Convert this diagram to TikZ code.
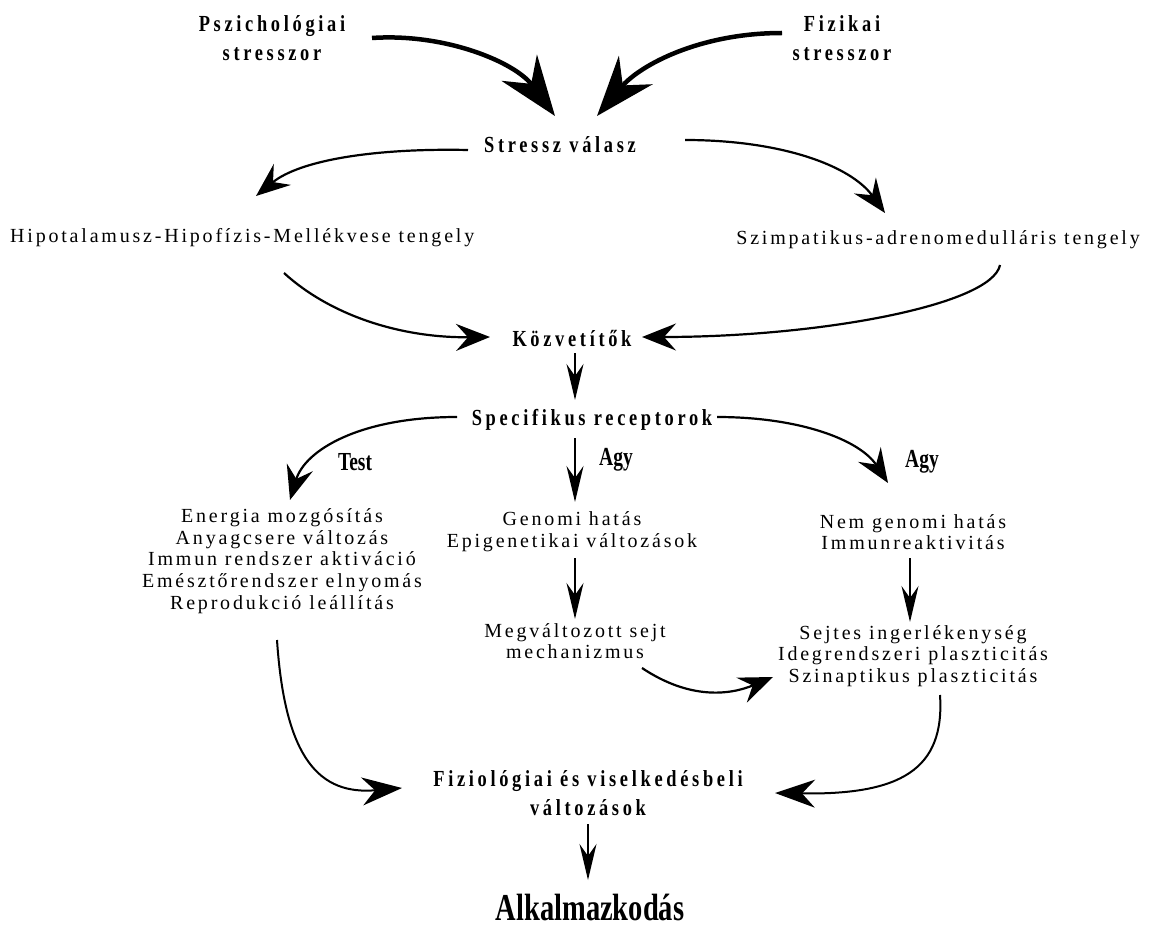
\documentclass[tikz,border=0pt]{standalone}
\usepackage{fontspec}
\setmainfont{Liberation Serif}
\newfontfamily\spc{Liberation Serif}[LetterSpace=14]
\newfontfamily\bsp{Liberation Serif}[LetterSpace=16,FakeStretch=0.8]
\newfontfamily\nrw{Liberation Serif}[FakeStretch=0.75]
\usetikzlibrary{arrows.meta}
\begin{document}
\begin{tikzpicture}[x=1pt,y=-1pt,
 txt/.style={font=\spc\fontsize{20}{21.7}\selectfont,align=center,inner sep=0pt},
 btxt/.style={font=\bsp\bfseries\fontsize{23}{29}\selectfont,align=center,inner sep=0pt},
 ntxt/.style={font=\nrw\bfseries\fontsize{26}{28}\selectfont,inner sep=0pt},
 bigtxt/.style={font=\nrw\bfseries\fontsize{38}{40}\selectfont,inner sep=0pt},
 big/.style={line width=4.5pt,-{Stealth[length=60pt,width=44pt,inset=20pt]}},
 med/.style={line width=2.2pt,-{Stealth[length=34pt,width=27pt,inset=12pt]}},
 medl/.style={line width=2pt,-{Stealth[length=40pt,width=28pt,inset=13pt]}},
 thin/.style={line width=1.5pt,-{Stealth[length=36pt,width=17pt,inset=12pt]}}]
\useasboundingbox (0,0) rectangle (1149,931);
\node[btxt] (psych) at (272,38) {Pszichológiai\\stresszor};
\node[btxt] (fiz) at (842,38) {Fizikai\\stresszor};
\node[btxt] (stress) at (560,145) {Stressz válasz};
\node[txt,anchor=west] (hhm) at (10,238) {Hipotalamusz-Hipofízis-Mellékvese tengely};
\node[txt,anchor=east] (sa) at (1140,240) {Szimpatikus-adrenomedulláris tengely};
\node[btxt] (kozv) at (572,339) {Közvetítők};
\node[btxt] (spec) at (592,420) {Specifikus receptorok};
\node[ntxt] (test) at (355,462) {Test};
\node[ntxt] (agyA) at (616,460) {Agy};
\node[ntxt] (agyB) at (922,462) {Agy};
\node[txt] (body) at (282,561) {Energia mozgósítás\\Anyagcsere változás\\Immun rendszer aktiváció\\Emésztőrendszer elnyomás\\Reprodukció leállítás};
\node[txt] (genom) at (572,532) {Genomi hatás\\Epigenetikai változások};
\node[txt] (megv) at (575,641) {Megváltozott sejt\\mechanizmus};
\node[txt] (nongen) at (913,532) {Nem genomi hatás\\Immunreaktivitás};
\node[txt] (sejt) at (913,656) {Sejtes ingerlékenység\\Idegrendszeri plaszticitás\\Szinaptikus plaszticitás};
\node[btxt] (fiz2) at (588,793) {Fiziológiai és viselkedésbeli\\változások};
\node[bigtxt] (alk) at (590,907) {Alkalmazkodás};
\draw[big] ([shift={(100,0)}]psych.center) .. controls (445,33) and (515,62) .. ([shift={(-5,-29)}]stress.center);
\draw[big] ([shift={(-60,-5)}]fiz.center) .. controls (700,33) and (640,65) .. ([shift={(37,-29)}]stress.center);
\draw[med] ([shift={(-92,5)}]stress.center) .. controls (375,148) and (300,160) .. ([shift={(246,-42)}]hhm.west);
\draw[med] ([shift={(125,-5)}]stress.center) .. controls (780,140) and (850,165) .. ([shift={(-255,-27)}]sa.east);
\draw[med] ([shift={(274,35)}]hhm.west) .. controls (330,315) and (400,338) .. ([shift={(-82,-2)}]kozv.center);
\draw[med] ([shift={(-140,25)}]sa.east) .. controls (992,305) and (820,337) .. ([shift={(70,-2)}]kozv.center);
\draw[thin] ([shift={(3,14)}]kozv.center) -- ([shift={(-17,-20)}]spec.center);
\draw[med] ([shift={(-135,-3)}]spec.center) .. controls (360,417) and (305,450) .. ([shift={(8,-61)}]body.center);
\draw[thin] ([shift={(-17,18)}]spec.center) -- ([shift={(3,-30)}]genom.center);
\draw[med] ([shift={(125,-3)}]spec.center) .. controls (800,417) and (860,440) .. ([shift={(-25,-49)}]nongen.center);
\draw[thin] ([shift={(3,26)}]genom.center) -- ([shift={(0,-22)}]megv.center);
\draw[thin] ([shift={(-3,26)}]nongen.center) -- ([shift={(-3,-34)}]sejt.center);
\draw[med] ([shift={(67,27)}]megv.center) .. controls (690,700) and (730,695) .. ([shift={(-140,21)}]sejt.center);
\draw[medl] ([shift={(-5,79)}]body.center) .. controls (285,760) and (320,795) .. ([shift={(-186,-5)}]fiz2.center);
\draw[medl] ([shift={(27,39)}]sejt.center) .. controls (945,770) and (900,795) .. ([shift={(187,0)}]fiz2.center);
\draw[thin] ([shift={(0,31)}]fiz2.center) -- ([shift={(-2,-27)}]alk.center);
\end{tikzpicture}
\end{document}
